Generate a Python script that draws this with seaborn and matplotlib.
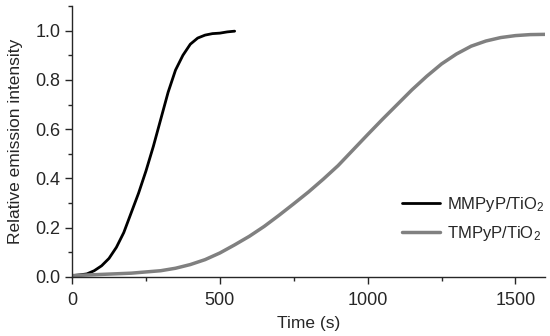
import matplotlib
matplotlib.use("Agg")
import matplotlib.pyplot as plt
import pandas as pd
import seaborn as sns
from matplotlib.ticker import MultipleLocator, FormatStrFormatter

# values
mmpyp_time = [0, 25, 50, 75, 100, 125, 150, 175, 200, 225, 250, 275, 300, 325,
              350, 375, 400, 425, 450, 475, 500, 525, 550]
mmpyp_int = [0.005, 0.008, 0.012, 0.025, 0.045, 0.075, 0.12, 0.18, 0.26, 0.34,
             0.43, 0.53, 0.64, 0.75, 0.84, 0.90, 0.945, 0.97, 0.982, 0.988,
             0.99, 0.995, 0.998]

tmpyp_time = [0, 100, 200, 300, 350, 400, 450, 500, 550, 600, 650, 700, 750,
              800, 850, 900, 950, 1000, 1050, 1100, 1150, 1200, 1250, 1300,
              1350, 1400, 1450, 1500, 1550, 1600]
tmpyp_int = [0.005, 0.01, 0.015, 0.025, 0.035, 0.05, 0.07, 0.097, 0.13, 0.165,
             0.205, 0.25, 0.297, 0.345, 0.397, 0.452, 0.515, 0.578, 0.64, 0.70,
             0.76, 0.815, 0.865, 0.905, 0.937, 0.958, 0.972, 0.98, 0.984, 0.985]

labels = ["MMPyP/TiO$_2$", "TMPyP/TiO$_2$"]

df = pd.concat([
    pd.DataFrame({"time": mmpyp_time, "intensity": mmpyp_int, "sample": labels[0]}),
    pd.DataFrame({"time": tmpyp_time, "intensity": tmpyp_int, "sample": labels[1]}),
])

sns.set_style("ticks")
plt.rcParams["font.family"] = ["Liberation Sans", "DejaVu Sans"]
plt.rcParams["mathtext.fontset"] = "custom"
plt.rcParams["mathtext.rm"] = "Liberation Sans"
plt.rcParams["mathtext.default"] = "regular"

fig = plt.figure(figsize=(5.5, 3.36), dpi=100)
ax = fig.add_axes([0.131, 0.176, 0.860, 0.806])

sns.lineplot(data=df, x="time", y="intensity", hue="sample",
             palette={labels[0]: "black", labels[1]: "#808080"},
             linewidth=2.2, ax=ax)
ax.lines[0].set_linewidth(2.0)
ax.lines[1].set_linewidth(2.5)

ax.set_xlim(0, 1600)
ax.set_ylim(0, 1.1)
ax.xaxis.set_major_locator(MultipleLocator(500))
ax.xaxis.set_minor_locator(MultipleLocator(250))
ax.yaxis.set_major_locator(MultipleLocator(0.2))
ax.yaxis.set_minor_locator(MultipleLocator(0.1))
ax.yaxis.set_major_formatter(FormatStrFormatter("%.1f"))
ax.tick_params(which="major", length=5, width=1, labelsize=13, direction="out")
ax.tick_params(axis="x", which="major", pad=6)
ax.tick_params(which="minor", length=3, width=1, direction="out")
for s in ["left", "bottom"]:
    ax.spines[s].set_linewidth(1)
sns.despine(ax=ax)

ax.set_xlabel("Time (s)", fontsize=12.5, labelpad=5)
ax.set_ylabel("Relative emission intensity", fontsize=12.5, labelpad=9)

leg = ax.legend(title=None, frameon=False, fontsize=12, loc="lower right",
                bbox_to_anchor=(1.03, 0.07), handlelength=2.3,
                handletextpad=0.4, labelspacing=0.6)
leg.get_lines()[0].set_linewidth(2.0)
leg.get_lines()[1].set_linewidth(2.5)

fig.savefig("out.png", dpi=100)
